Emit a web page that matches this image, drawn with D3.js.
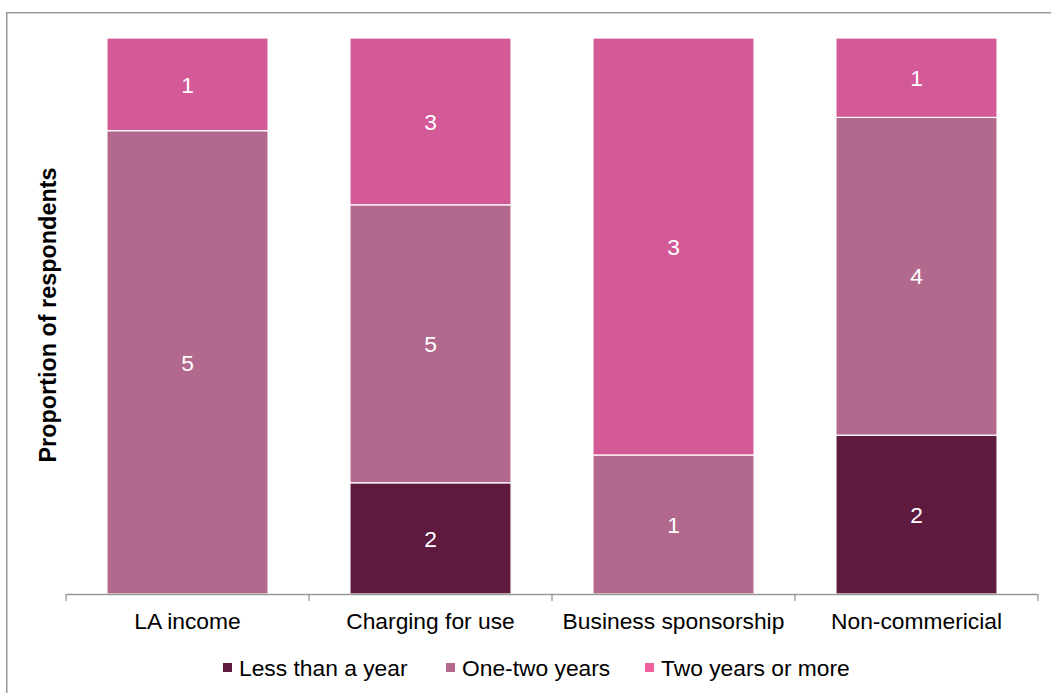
<!DOCTYPE html>
<html>
<head>
<meta charset="utf-8">
<script src="https://cdn.jsdelivr.net/npm/d3@7"></script>
<style>
  html, body { margin: 0; padding: 0; background: #fff; }
  svg { display: block; font-family: Arial, "Liberation Sans", sans-serif; }
</style>
</head>
<body>
<svg id="chart" width="1051" height="693"></svg>
<script>
// Funding sources and how long each has been in place (respondent counts)
const categories = ["LA income", "Charging for use", "Business sponsorship", "Non-commericial"];
const seriesNames = ["Less than a year", "One-two years", "Two years or more"];
const lessThanYear = [0, 2, 0, 2];
const oneTwoYears = [5, 5, 1, 4];
const twoYearsOrMore = [1, 3, 3, 1];

const barColors = ["#5f1a40", "#b3698d", "#d35a97"];
const legendColors = ["#5f1a40", "#b3698d", "#f0609e"];

const svg = d3.select("#chart");
const W = 1051, H = 693;
const fontSize = 22.8;

// outer frame
svg.append("rect")
  .attr("x", 6.75).attr("y", 12.75)
  .attr("width", W + 20).attr("height", H + 20)
  .attr("fill", "none").attr("stroke", "#999").attr("stroke-width", 1.5);

const margin = { left: 66, right: 13, top: 38, bottom: 99 };
const plotW = W - margin.left - margin.right;
const plotH = H - margin.top - margin.bottom;
const g = svg.append("g").attr("transform", `translate(${margin.left},${margin.top})`);

// rows as {category, series values}, normalised to proportions per category
const rows = categories.map((c, i) => ({
  category: c,
  [seriesNames[0]]: lessThanYear[i],
  [seriesNames[1]]: oneTwoYears[i],
  [seriesNames[2]]: twoYearsOrMore[i]
}));
const stacked = d3.stack().keys(seriesNames).offset(d3.stackOffsetExpand)(rows);

const x = d3.scaleBand().domain(categories).range([0, plotW]).paddingInner(0.337).paddingOuter(0.1685);
const y = d3.scaleLinear().domain([0, 1]).range([plotH, 0]);

const layers = g.selectAll("g.layer").data(stacked).join("g")
  .attr("class", "layer")
  .attr("fill", (d, i) => barColors[i]);

layers.selectAll("rect")
  .data(d => d.map(s => ({ s, key: d.key })))
  .join("rect")
  .filter(d => d.s[1] - d.s[0] > 0)
  .attr("x", d => x(d.s.data.category))
  .attr("width", x.bandwidth())
  .attr("y", d => y(d.s[1]))
  .attr("height", d => y(d.s[0]) - y(d.s[1]))
  .attr("stroke", "#fff").attr("stroke-width", 1.2);

// value labels in the middle of each segment
layers.selectAll("text")
  .data(d => d.map(s => ({ s, key: d.key })).filter(v => v.s.data[v.key] > 0))
  .join("text")
  .attr("x", d => x(d.s.data.category) + x.bandwidth() / 2)
  .attr("y", d => (y(d.s[0]) + y(d.s[1])) / 2)
  .attr("dy", "0.36em")
  .attr("text-anchor", "middle")
  .attr("fill", "#fff")
  .attr("font-size", fontSize)
  .text(d => d.s.data[d.key]);

// category axis with ticks between bands
const axisG = g.append("g").attr("transform", `translate(0,${plotH})`);
axisG.append("line")
  .attr("x1", 0).attr("x2", plotW).attr("y1", 0.5).attr("y2", 0.5)
  .attr("stroke", "#999").attr("stroke-width", 1.3);
const step = x.step();
const tickPos = d3.range(categories.length + 1).map(i => i * step);
axisG.selectAll("line.tick").data(tickPos).join("line")
  .attr("class", "tick")
  .attr("x1", d => d).attr("x2", d => d)
  .attr("y1", 0).attr("y2", 7)
  .attr("stroke", "#999").attr("stroke-width", 1.3);
axisG.selectAll("text").data(categories).join("text")
  .attr("x", d => x(d) + x.bandwidth() / 2)
  .attr("y", 35)
  .attr("text-anchor", "middle")
  .attr("font-size", fontSize)
  .attr("fill", "#000")
  .text(d => d);

// y axis title
svg.append("text")
  .attr("transform", `translate(56,${margin.top + plotH / 2 - 1}) rotate(-90)`)
  .attr("text-anchor", "middle")
  .attr("font-size", 23.4)
  .attr("font-weight", "bold")
  .attr("fill", "#000")
  .text("Proportion of respondents");

// legend
const legendItems = [
  { name: seriesNames[0], x: 223 },
  { name: seriesNames[1], x: 446 },
  { name: seriesNames[2], x: 645 }
];
const legend = svg.append("g").attr("transform", "translate(0,668)");
legend.selectAll("rect").data(legendItems).join("rect")
  .attr("x", d => d.x).attr("y", -5)
  .attr("width", 9).attr("height", 9)
  .attr("fill", (d, i) => legendColors[i]);
legend.selectAll("text").data(legendItems).join("text")
  .attr("x", d => d.x + 16).attr("y", 0)
  .attr("dy", "0.36em")
  .attr("font-size", fontSize)
  .attr("fill", "#000")
  .text(d => d.name);
</script>
</body>
</html>
